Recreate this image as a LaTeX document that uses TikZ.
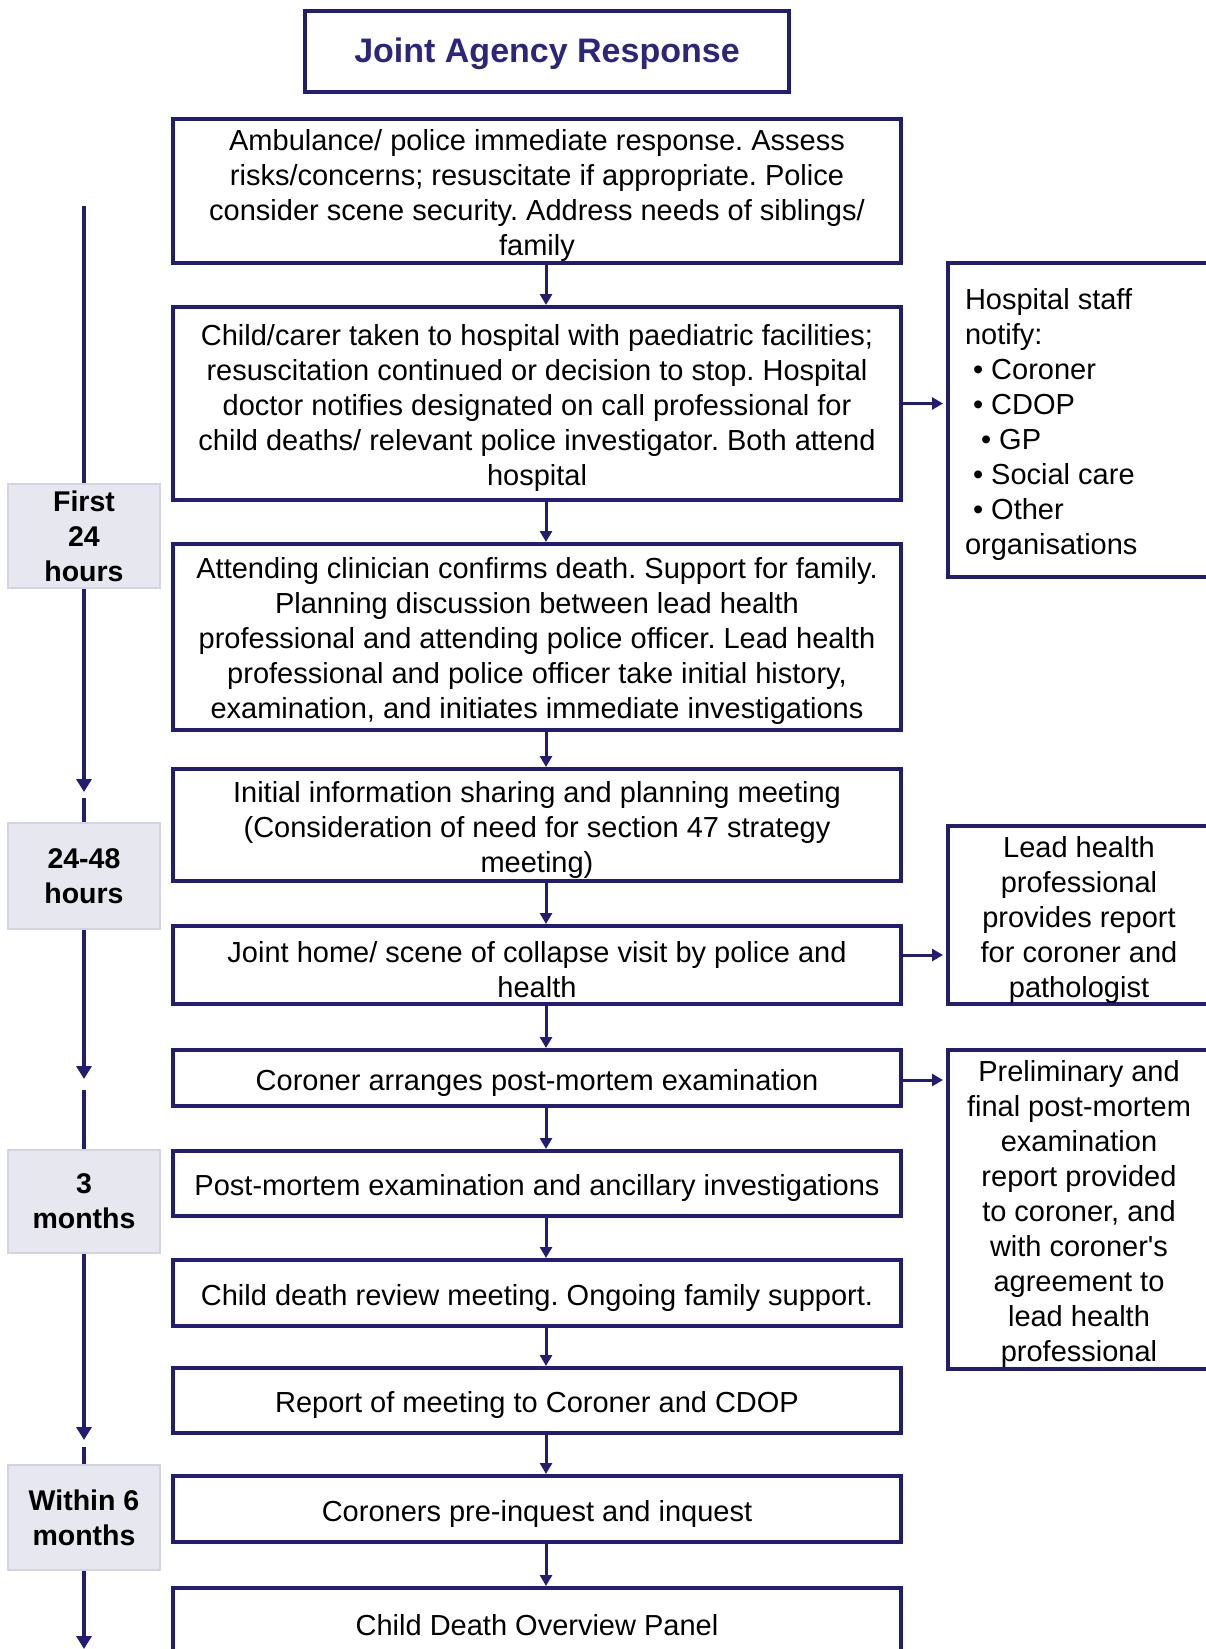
\documentclass[tikz,border=0pt]{standalone}
\usepackage{fontspec}
\setmainfont{Liberation Sans}
\usetikzlibrary{arrows.meta,calc}
\definecolor{navy}{HTML}{231C75}
\definecolor{titleblue}{HTML}{2B2481}
\definecolor{labfill}{HTML}{E7E7EF}
\definecolor{labdraw}{HTML}{D3D3E4}
\begin{document}
\frenchspacing
\begin{tikzpicture}[x=1pt,y=-1pt,
  txt/.style={font=\fontsize{29}{35}\selectfont\frenchspacing},
  mainbox/.style={txt,draw=navy,line width=4pt,text width=724pt,inner xsep=2pt,inner ysep=0pt,align=flush center,execute at begin node={\rule{0pt}{30pt}}},
  sidebox/.style={txt,draw=navy,line width=4pt,text width=258pt,inner xsep=2pt,inner ysep=0pt,align=flush center,execute at begin node={\rule{0pt}{30pt}}},
  timebox/.style={font=\bfseries\fontsize{28.5}{35}\selectfont,fill=labfill,draw=labdraw,line width=2pt,minimum width=152pt,align=center,inner sep=2pt},
  conn/.style={draw=navy,line width=3pt,-{Triangle[length=11pt,width=12pt]}},
  tline/.style={draw=navy,line width=4pt},
  tarrow/.style={tline,-{Triangle[length=13pt,width=15pt]}}
]
\useasboundingbox (0,0) rectangle (1206,1649);
\clip (0,0) rectangle (1206,1649);

% title
\node[draw=navy,line width=4pt,minimum width=484pt,minimum height=81pt,text=titleblue,font=\bfseries\fontsize{34}{40}\selectfont,inner ysep=0pt] (title) at (547,51) {\rule{0pt}{31pt}Joint Agency Response};

% main column
\node[mainbox,minimum height=144pt] (b1) at (537,191) {Ambulance/ police immediate response. Assess\\risks/concerns; resuscitate if appropriate. Police\\consider scene security. Address needs of siblings/\\family};
\node[mainbox,minimum height=193pt] (b2) at (537,403.5) {Child/carer taken to hospital with paediatric facilities;\\resuscitation continued or decision to stop. Hospital\\doctor notifies designated on call professional for\\child deaths/ relevant police investigator. Both attend\\hospital};
\node[mainbox,minimum height=186pt] (b3) at (537,637) {Attending clinician confirms death. Support for family.\\Planning discussion between lead health\\professional and attending police officer. Lead health\\professional and police officer take initial history,\\examination, and initiates immediate investigations};
\node[mainbox,minimum height=112pt] (b4) at (537,825) {Initial information sharing and planning meeting\\(Consideration of need for section 47 strategy\\meeting)};
\node[mainbox,minimum height=78pt] (b5) at (537,965) {Joint home/ scene of collapse visit by police and\\health};
\node[mainbox,minimum height=56pt] (b6) at (537,1078) {Coroner arranges post-mortem examination};
\node[mainbox,minimum height=65pt] (b7) at (537,1183.5) {Post-mortem examination and ancillary investigations};
\node[mainbox,minimum height=66pt] (b8) at (537,1293) {Child death review meeting. Ongoing family support.};
\node[mainbox,minimum height=65pt] (b9) at (537,1400.5) {Report of meeting to Coroner and CDOP};
\node[mainbox,minimum height=66pt] (b10) at (537,1509) {Coroners pre-inquest and inquest};
\node[mainbox,minimum height=66pt] (b11) at (537,1621) {Child Death Overview Panel};

% side boxes
\node[sidebox,minimum height=314pt,text width=228pt,align=flush left,inner xsep=17pt] (hosp) at (1079,420) {Hospital staff\\notify:\\\hspace*{8pt}\textbullet\ Coroner\\\hspace*{8pt}\textbullet\ CDOP\\\hspace*{16pt}\textbullet\ GP\\\hspace*{8pt}\textbullet\ Social care\\\hspace*{8pt}\textbullet\ Other\\organisations};
\node[sidebox,minimum height=178pt] (lead) at (1079,915) {Lead health\\professional\\provides report\\for coroner and\\pathologist};
\node[sidebox,minimum height=319pt] (prelim) at (1079,1209.5) {Preliminary and\\final post-mortem\\examination\\report provided\\to coroner, and\\with coroner\textquotesingle s\\agreement to\\lead health\\professional};

% vertical connectors
\coordinate (ax) at (546,0);
\foreach \a/\b in {b1/b2,b2/b3,b3/b4,b4/b5,b5/b6,b6/b7,b7/b8,b8/b9,b9/b10,b10/b11}
  \draw[conn] (\a.south -| ax) -- (\b.north -| ax);

% side connectors
\draw[conn,shorten >=3pt] (b2.east) -- (hosp.west |- b2.east);
\draw[conn,shorten >=3pt] ($(b5.east)+(0,-10)$) -- (lead.west |- {$(b5.east)+(0,-10)$});
\draw[conn,shorten >=3pt] ($(b6.east)+(0,2)$) -- (prelim.west |- {$(b6.east)+(0,2)$});

% time labels
\node[timebox,minimum height=104pt] (l1) at (84,536) {First\\24\\hours};
\node[timebox,minimum height=106pt] (l2) at (84,876) {24-48\\hours};
\node[timebox,minimum height=103pt] (l3) at (84,1201.5) {3\\months};
\node[timebox,minimum height=105pt] (l4) at (84,1517.5) {Within 6\\months};

% timeline
\coordinate (t0) at (84,206);
\coordinate (tip1) at (84,792);
\coordinate (r1) at (84,798);
\coordinate (tip2) at (84,1079);
\coordinate (r2) at (84,1090);
\coordinate (tip3) at (84,1440);
\coordinate (r3) at (84,1447);
\coordinate (tip4) at (84,1649);
\draw[tline] (t0) -- (l1.north);
\draw[tarrow] (l1.south) -- (tip1);
\draw[tline] (r1) -- (l2.north);
\draw[tarrow] (l2.south) -- (tip2);
\draw[tline] (r2) -- (l3.north);
\draw[tarrow] (l3.south) -- (tip3);
\draw[tline] (r3) -- (l4.north);
\draw[tarrow] (l4.south) -- (tip4);
\end{tikzpicture}
\end{document}
